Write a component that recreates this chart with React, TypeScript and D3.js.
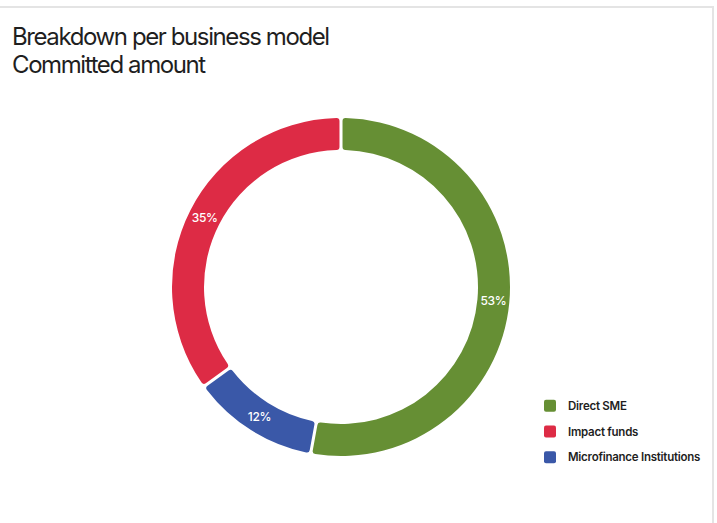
import React from "react";
import * as d3 from "d3";

const titleLines = ["Breakdown per business model", "Committed amount"];
const categories = ["Direct SME", "Impact funds", "Microfinance Institutions"];
const values = [53, 35, 12];
const colors = ["#668f34", "#dd2b45", "#3a58a8"];
const sliceOrder = [0, 2, 1];

export default function App() {
  const W = 717, H = 523;
  const cx = 341, cy = 287, outerR = 169, innerR = 137;
  const order = (i: number) => sliceOrder.indexOf(i);
  const pie = d3
    .pie<number>()
    .value((d) => values[d])
    .sort((a, b) => order(a) - order(b))
    .padAngle(0.014);
  const arcs = pie(categories.map((_, i) => i));
  const arc = d3
    .arc<d3.PieArcDatum<number>>()
    .innerRadius(innerR)
    .outerRadius(outerR)
    .cornerRadius(3);
  const total = d3.sum(values);
  const legendY = d3.scaleBand<number>().domain(categories.map((_, i) => i)).range([393, 470]);

  return (
    <div style={{ position: "fixed", left: 0, top: 0, width: W, height: H, background: "#fff" }}>
      <svg width={W} height={H} style={{ display: "block" }} fontFamily="Inter, 'Noto Sans', sans-serif">
        <rect x={-10} y={7} width={723} height={600} fill="#fff" stroke="#e4e4e4" strokeWidth={2} />
        {titleLines.map((t, i) => (
          <text key={i} x={12} y={45 + i * 28} fontSize={24} fill="#1f1f1f" letterSpacing={-1.4}>
            {t}
          </text>
        ))}
        <g transform={`translate(${cx},${cy})`}>
          {arcs.map((a) => (
            <path key={a.data} d={arc(a) || ""} fill={colors[a.data]} />
          ))}
          {arcs.map((a) => {
            const mid = (a.startAngle + a.endAngle) / 2;
            const r = (innerR + outerR) / 2;
            return (
              <text
                key={"l" + a.data}
                x={Math.sin(mid) * r}
                y={-Math.cos(mid) * r}
                dy="0.35em"
                textAnchor="middle"
                fontSize={12}
                fontWeight={500}
                fill="#fff"
                letterSpacing={-0.3}
              >
                {Math.round((values[a.data] / total) * 100)}%
              </text>
            );
          })}
        </g>
        {categories.map((c, i) => {
          const y = (legendY(i) || 0) + legendY.bandwidth() / 2;
          return (
            <g key={c}>
              <rect x={544} y={y - 6} width={12} height={12} rx={2} fill={colors[i]} />
              <text x={568} y={y} dy="0.35em" fontSize={11.5} fontWeight={600} fill="#1f1f1f" letterSpacing={-0.25}>
                {c}
              </text>
            </g>
          );
        })}
      </svg>
    </div>
  );
}
